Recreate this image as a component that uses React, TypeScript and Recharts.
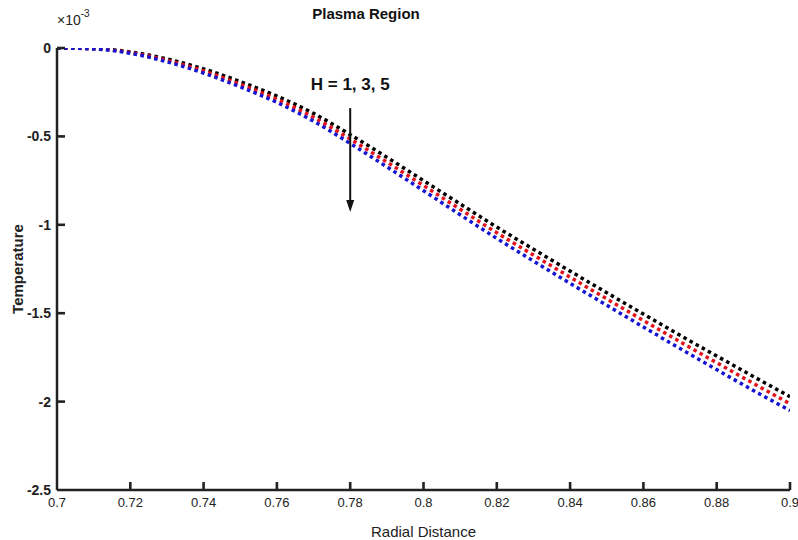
import { LineChart, Line, XAxis, YAxis, ReferenceDot, Label } from "recharts";

// radial distance samples
const radius = [
  0.7, 0.71, 0.72, 0.73, 0.74, 0.75, 0.76, 0.77, 0.78, 0.79, 0.8,
  0.81, 0.82, 0.83, 0.84, 0.85, 0.86, 0.87, 0.88, 0.89, 0.9,
];

// temperature, in units of 1e-3
const tempH1 = [
  0, -0.003, -0.022, -0.062, -0.118, -0.19, -0.272, -0.37, -0.49, -0.618, -0.75,
  -0.882, -1.013, -1.138, -1.262, -1.384, -1.505, -1.625, -1.742, -1.858, -1.972,
];
const tempH3 = [
  0, -0.004, -0.026, -0.07, -0.13, -0.205, -0.29, -0.392, -0.515, -0.645, -0.778,
  -0.912, -1.045, -1.171, -1.296, -1.419, -1.541, -1.662, -1.78, -1.897, -2.012,
];
const tempH5 = [
  0, -0.005, -0.03, -0.078, -0.142, -0.22, -0.308, -0.414, -0.54, -0.672, -0.807,
  -0.943, -1.077, -1.205, -1.331, -1.455, -1.578, -1.7, -1.819, -1.937, -2.05,
];

const xTicks = [0.7, 0.72, 0.74, 0.76, 0.78, 0.8, 0.82, 0.84, 0.86, 0.88, 0.9];
const yTicks = [0, -0.5, -1, -1.5, -2, -2.5];

const data = radius.map((r, i) => ({
  r,
  h1: tempH1[i],
  h3: tempH3[i],
  h5: tempH5[i],
}));

const FONT = "'Liberation Sans', Arial, sans-serif";
const AXIS = "#222";
const TICK_LEN = 8;

// x tick: inward mark above the axis plus the label below it
const XTick = (props: any) => {
  const { x, y, payload, index } = props;
  return (
    <g>
      {index > 0 && <rect x={x - 1.3} y={y - TICK_LEN} width={2.6} height={TICK_LEN} fill={AXIS} />}
      <text x={x} y={y + 17} textAnchor="middle" fontFamily={FONT} fontSize={13} fill="#222">
        {String(Number(payload.value.toFixed(2)))}
      </text>
    </g>
  );
};

// y tick: inward mark right of the axis plus the label on the left
const YTick = (props: any) => {
  const { x, y, payload } = props;
  const last = payload.value === -2.5;
  return (
    <g>
      {!last && <rect x={x} y={y - 1.3} width={TICK_LEN} height={2.6} fill={AXIS} />}
      <text x={x - 6} y={y + 5} textAnchor="end" fontFamily={FONT} fontSize={14} fontWeight="bold" fill="#222">
        {String(payload.value)}
      </text>
    </g>
  );
};

// arrow + "H = 1, 3, 5" text, anchored at the arrow's top
const ArrowNote = (props: any) => {
  const { cx, cy } = props;
  const len = 102;
  return (
    <g>
      <text
        x={cx}
        y={cy - 18}
        textAnchor="middle"
        fontFamily={FONT}
        fontWeight="bold"
        fontSize={17}
        fill="#111"
      >
        H = 1, 3, 5
      </text>
      <line x1={cx} y1={cy} x2={cx} y2={cy + len - 8} stroke="#111" strokeWidth={2} />
      <path
        d={`M${cx - 4},${cy + len - 10} L${cx + 4},${cy + len - 10} L${cx},${cy + len + 2} Z`}
        fill="#111"
      />
    </g>
  );
};

export default function App() {
  return (
    <div style={{ position: "absolute", left: 0, top: 0, width: 798, height: 540, background: "#fff" }}>
      <div
        style={{
          position: "absolute",
          left: 0,
          width: 732,
          top: 5,
          textAlign: "center",
          fontFamily: FONT,
          fontWeight: "bold",
          fontSize: 15,
          color: "#111",
        }}
      >
        Plasma Region
      </div>
      <div
        style={{
          position: "absolute",
          left: 57,
          top: 10,
          fontFamily: FONT,
          fontSize: 14,
          color: "#222",
        }}
      >
        ×10<sup style={{ fontSize: 10, position: "relative", top: -2 }}>-3</sup>
      </div>
      <LineChart
        width={798}
        height={540}
        data={data}
        margin={{ top: 48, right: 8, bottom: 0, left: 0 }}
      >
        <XAxis
          dataKey="r"
          type="number"
          domain={[0.7, 0.9]}
          ticks={xTicks}
          allowDataOverflow
          height={50}
          tickSize={0}
          tickMargin={0}
          axisLine={{ stroke: AXIS, strokeWidth: 2.5 }}
          tickLine={false}
          tick={XTick}
          interval={0}
        >
          <Label
            value="Radial Distance"
            position="insideBottom"
            offset={3}
            style={{ fill: "#222", fontSize: 15, fontFamily: FONT }}
          />
        </XAxis>
        <YAxis
          type="number"
          domain={[-2.5, 0]}
          ticks={yTicks}
          allowDataOverflow
          width={57}
          tickSize={0}
          tickMargin={0}
          axisLine={{ stroke: AXIS, strokeWidth: 2.5 }}
          tickLine={false}
          tick={YTick}
          interval={0}
        >
          <Label
            value="Temperature"
            angle={-90}
            position="insideLeft"
            offset={18}
            style={{ fill: "#222", fontSize: 15, fontWeight: "bold", fontFamily: FONT, textAnchor: "middle" }}
          />
        </YAxis>
        <Line
          type="monotone"
          dataKey="h1"
          stroke="#000"
          strokeWidth={3.5}
          strokeDasharray="3.5 3.5"
          dot={false}
          isAnimationActive={false}
        />
        <Line
          type="monotone"
          dataKey="h3"
          stroke="#e3121b"
          strokeWidth={3.5}
          strokeDasharray="3.5 3.5"
          dot={false}
          isAnimationActive={false}
        />
        <Line
          type="monotone"
          dataKey="h5"
          stroke="#1414d2"
          strokeWidth={3.5}
          strokeDasharray="3.5 3.5"
          dot={false}
          isAnimationActive={false}
        />
        <ReferenceDot x={0.78} y={-0.34} r={0} shape={ArrowNote} />
      </LineChart>
    </div>
  );
}
